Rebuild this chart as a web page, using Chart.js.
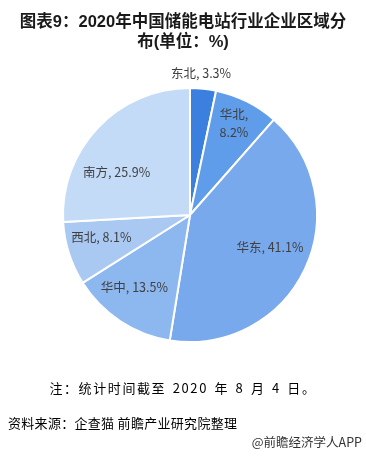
<!DOCTYPE html>
<html>
<head>
<meta charset="utf-8">
<script src="https://cdn.jsdelivr.net/npm/chart.js@4"></script>
<style>
  body { margin:0; background:#fff; width:366px; height:458px; position:relative; overflow:hidden;
         font-family:"Noto Sans CJK SC", "Noto Sans", sans-serif; }
  #wrap { position:absolute; left:0; top:0; width:366px; height:458px; }
  .title { position:absolute; left:0; width:366px; text-align:center; font-weight:bold; font-size:16.5px;
           color:#1a1a1a; line-height:20px; white-space:nowrap;
           font-family:"Liberation Sans","Noto Sans CJK SC",sans-serif; }
  .note { position:absolute; top:378px; left:0; width:366px; text-align:center; font-size:13px; color:#000;
          letter-spacing:1.6px; word-spacing:2px; }
  .src { position:absolute; top:413px; left:8px; font-size:13px; color:#000; letter-spacing:0.3px; }
  .wm { position:absolute; top:432px; right:4px; font-size:12.5px; color:#333; }
</style>
</head>
<body>
<div id="wrap"><canvas id="myChart" width="366" height="458"></canvas></div>
<div class="title" style="top:11px">图表9：2020年中国储能电站行业企业区域分</div>
<div class="title" style="top:31px">布(单位：%)</div>
<div class="note">注：统计时间截至 2020 年 8 月 4 日。</div>
<div class="src">资料来源：企查猫 前瞻产业研究院整理</div>
<div class="wm">@前瞻经济学人APP</div>
<script>
var regions = ['东北', '华北', '华东', '华中', '西北', '南方'];
var shares = [3.3, 8.2, 41.1, 13.5, 8.1, 25.9];
var colors = ['#3b7fdf', '#5f9ce9', '#78a9ec', '#8db7ef', '#a9c9f3', '#c4dbf8'];

// label placement: [angle offset in degrees, radius factor]
var labelPlace = [[-1.5, 1.12], [-1, 0.80], [-3, 0.68], [4, 0.72], [3.5, 0.72], [-13, 0.67]];

var labelPlugin = {
    id: 'sliceLabels',
    afterDatasetsDraw: function(chart) {
        var ctx = chart.ctx;
        var meta = chart.getDatasetMeta(0);
        ctx.save();
        ctx.fillStyle = '#404040';
        ctx.font = '12.5px "Noto Sans CJK SC", sans-serif';
        ctx.textAlign = 'center';
        ctx.textBaseline = 'middle';
        meta.data.forEach(function(arc, i) {
            var p = arc.getProps(['x', 'y', 'startAngle', 'endAngle', 'outerRadius'], true);
            var a = (p.startAngle + p.endAngle) / 2 + labelPlace[i][0] * Math.PI / 180;
            var r = p.outerRadius * labelPlace[i][1];
            var x = p.x + Math.cos(a) * r;
            var y = p.y + Math.sin(a) * r;
            if (i == 1) {
                ctx.fillText(regions[i] + ',', x, y - 9);
                ctx.fillText(shares[i].toFixed(1) + '%', x, y + 9);
            } else {
                ctx.fillText(regions[i] + ', ' + shares[i].toFixed(1) + '%', x, y);
            }
        });
        ctx.restore();
    }
};

var ctx = document.getElementById("myChart").getContext('2d');
var myChart = new Chart(ctx, {
    type: 'pie',
    data: {
        labels: regions,
        datasets: [{
            data: shares,
            backgroundColor: colors,
            borderColor: '#ffffff',
            borderWidth: 2
        }]
    },
    options: {
        responsive: false,
        animation: false,
        layout: { padding: { left: 62, right: 48, top: 87, bottom: 115 } },
        plugins: {
            legend: { display: false },
            tooltip: { enabled: false }
        }
    },
    plugins: [labelPlugin]
});
</script>
</body>
</html>
